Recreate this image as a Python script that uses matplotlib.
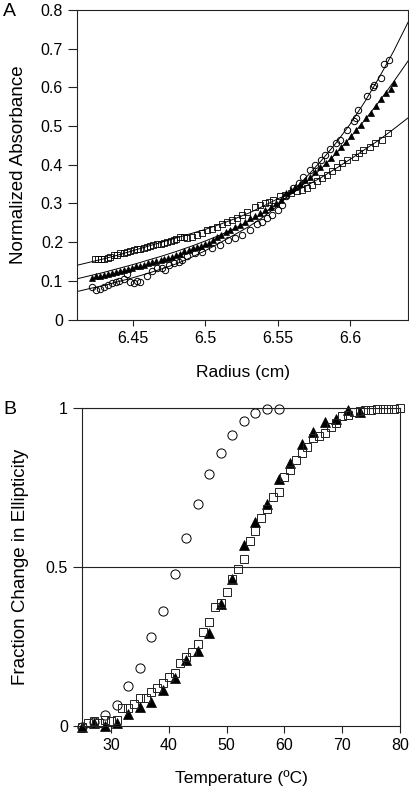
import matplotlib
matplotlib.use("Agg")
import matplotlib.pyplot as plt

plt.rcParams['font.family'] = ['Liberation Sans', 'DejaVu Sans']

# ---- panel A : sedimentation profiles ----
circ_x = [6.4216, 6.4244, 6.427, 6.430, 6.433, 6.4355, 6.438, 6.440, 6.4436, 6.446,
          6.448, 6.4507, 6.453, 6.455, 6.4597, 6.463, 6.4666, 6.470, 6.472, 6.4747,
          6.478, 6.482, 6.484, 6.487, 6.493, 6.498, 6.5044, 6.510, 6.5157, 6.5205,
          6.525, 6.531, 6.5355, 6.539, 6.5425, 6.546, 6.550, 6.553, 6.556, 6.5607,
          6.5648, 6.5676, 6.5724, 6.5759, 6.580, 6.5828, 6.5862, 6.590, 6.593, 6.5978,
          6.6025, 6.604, 6.6056, 6.6116, 6.6155, 6.6165, 6.621, 6.6236, 6.627]
circ_y = [0.083, 0.076, 0.080, 0.085, 0.089, 0.094, 0.097, 0.100, 0.104, 0.117,
          0.097, 0.094, 0.100, 0.097, 0.112, 0.126, 0.133, 0.133, 0.128, 0.141,
          0.145, 0.148, 0.153, 0.164, 0.171, 0.175, 0.184, 0.192, 0.205, 0.210,
          0.218, 0.231, 0.247, 0.253, 0.262, 0.270, 0.283, 0.296, 0.318, 0.340,
          0.354, 0.369, 0.387, 0.400, 0.413, 0.426, 0.441, 0.457, 0.465, 0.490,
          0.512, 0.520, 0.542, 0.577, 0.600, 0.606, 0.625, 0.661, 0.672]

tri_x = [6.4216, 6.4245, 6.4272, 6.430, 6.4328, 6.4355, 6.4383, 6.441, 6.4438, 6.4466,
         6.4494, 6.452, 6.455, 6.4577, 6.4605, 6.4633, 6.466, 6.469, 6.4716, 6.4744,
         6.477, 6.480, 6.4828, 6.4855, 6.4885, 6.4912, 6.494, 6.4968, 6.4996, 6.5024,
         6.505, 6.508, 6.511, 6.514, 6.517, 6.5205, 6.524, 6.5275, 6.531, 6.5345,
         6.538, 6.5415, 6.545, 6.5485, 6.552, 6.556, 6.559, 6.562, 6.5655, 6.569,
         6.5725, 6.576, 6.5795, 6.583, 6.5865, 6.590, 6.5935, 6.597, 6.6005, 6.604,
         6.6075, 6.611, 6.6145, 6.618, 6.6215, 6.625, 6.628, 6.6305]
tri_y = [0.107, 0.112, 0.113, 0.116, 0.118, 0.121, 0.124, 0.126, 0.128, 0.131,
         0.133, 0.137, 0.139, 0.142, 0.145, 0.148, 0.150, 0.154, 0.156, 0.160,
         0.162, 0.166, 0.170, 0.176, 0.180, 0.184, 0.187, 0.190, 0.194, 0.199,
         0.205, 0.213, 0.219, 0.225, 0.231, 0.238, 0.244, 0.253, 0.262, 0.268,
         0.275, 0.283, 0.291, 0.300, 0.309, 0.327, 0.334, 0.342, 0.350, 0.360,
         0.369, 0.381, 0.393, 0.404, 0.418, 0.432, 0.446, 0.460, 0.474, 0.489,
         0.502, 0.520, 0.535, 0.552, 0.570, 0.585, 0.597, 0.612]

sq_x = [6.4235, 6.4255, 6.428, 6.430, 6.4325, 6.434, 6.437, 6.439, 6.441, 6.4435,
        6.446, 6.448, 6.4505, 6.453, 6.455, 6.4575, 6.4597, 6.462, 6.464, 6.4665,
        6.469, 6.4715, 6.4735, 6.476, 6.478, 6.480, 6.4825, 6.485, 6.487, 6.4905,
        6.494, 6.4975, 6.501, 6.5045, 6.508, 6.5115, 6.515, 6.5185, 6.522, 6.5255,
        6.529, 6.5343, 6.5375, 6.541, 6.544, 6.547, 6.5517, 6.555, 6.559, 6.563,
        6.5665, 6.570, 6.5735, 6.577, 6.5805, 6.584, 6.5875, 6.591, 6.5945, 6.598,
        6.6035, 6.606, 6.609, 6.614, 6.617, 6.622, 6.626]
sq_y = [0.156, 0.156, 0.157, 0.156, 0.160, 0.162, 0.166, 0.168, 0.171, 0.172,
        0.175, 0.178, 0.180, 0.181, 0.182, 0.185, 0.188, 0.190, 0.192, 0.194,
        0.196, 0.198, 0.201, 0.203, 0.205, 0.209, 0.214, 0.212, 0.210, 0.214,
        0.218, 0.224, 0.231, 0.235, 0.240, 0.246, 0.253, 0.257, 0.262, 0.270,
        0.279, 0.292, 0.296, 0.301, 0.305, 0.309, 0.318, 0.322, 0.326, 0.332,
        0.336, 0.340, 0.348, 0.357, 0.365, 0.374, 0.384, 0.395, 0.404, 0.413,
        0.421, 0.430, 0.439, 0.447, 0.456, 0.464, 0.482]

# fitted curves
fit_x = [6.41, 6.42, 6.43, 6.44, 6.45, 6.46, 6.47, 6.48, 6.49, 6.50, 6.51, 6.52,
         6.53, 6.54, 6.55, 6.56, 6.57, 6.58, 6.59, 6.60, 6.61, 6.62, 6.63, 6.64]
fit_circ = [0.071, 0.080, 0.088, 0.098, 0.108, 0.119, 0.131, 0.144, 0.160, 0.178, 0.198, 0.219,
            0.240, 0.265, 0.294, 0.330, 0.369, 0.410, 0.455, 0.505, 0.562, 0.625, 0.693, 0.768]
fit_tri = [0.104, 0.113, 0.122, 0.132, 0.142, 0.153, 0.164, 0.176, 0.189, 0.203, 0.218, 0.235,
           0.254, 0.275, 0.299, 0.326, 0.356, 0.390, 0.428, 0.470, 0.515, 0.563, 0.614, 0.668]
fit_sq = [0.139, 0.148, 0.157, 0.167, 0.178, 0.189, 0.200, 0.211, 0.222, 0.233, 0.246, 0.260,
          0.275, 0.293, 0.312, 0.328, 0.346, 0.367, 0.390, 0.414, 0.439, 0.464, 0.492, 0.521]

# ---- panel B : thermal melts ----
b_circ_t = [25, 27, 29, 31, 33, 35, 37, 39, 41, 43, 45, 47, 49, 51, 53, 55, 57, 59]
b_circ_f = [-0.002, 0.012, 0.035, 0.065, 0.127, 0.183, 0.281, 0.363, 0.478, 0.592,
            0.697, 0.792, 0.860, 0.915, 0.959, 0.985, 0.998, 0.998]

b_tri_t = [25, 27, 29, 31, 33, 35, 37, 39, 41, 43, 45, 47, 49, 51, 53, 55, 57, 59,
           61, 63, 65, 67, 69, 71, 73]
b_tri_f = [-0.002, 0.010, 0.000, 0.010, 0.038, 0.059, 0.075, 0.113, 0.150, 0.207,
           0.237, 0.291, 0.384, 0.462, 0.569, 0.643, 0.698, 0.776, 0.828, 0.887,
           0.926, 0.957, 0.964, 0.994, 0.986]

b_sq_t = list(range(25, 81))
b_sq_f = [-0.002, 0.008, 0.015, 0.010, 0.020, 0.015, 0.020, 0.056, 0.058, 0.070,
          0.088, 0.088, 0.108, 0.120, 0.135, 0.155, 0.168, 0.197, 0.218, 0.234,
          0.257, 0.297, 0.326, 0.375, 0.388, 0.422, 0.462, 0.493, 0.524, 0.581,
          0.613, 0.655, 0.681, 0.721, 0.736, 0.784, 0.805, 0.836, 0.859, 0.878,
          0.905, 0.912, 0.920, 0.941, 0.952, 0.975, 0.978, 0.986, 0.990, 0.993,
          0.995, 0.997, 0.998, 0.998, 0.998, 1.000]

fig = plt.figure(figsize=(4.09, 7.89), dpi=100)
edge = '#222222'

def style(ax):
    for s in ax.spines.values():
        s.set_linewidth(0.8)
        s.set_color(edge)
    ax.tick_params(direction='out', width=0.8, color=edge, labelsize=11.5)
    ax.tick_params(axis='y', length=6.5, pad=3.5)
    ax.tick_params(axis='x', length=4, pad=4)

# panel A
axA = fig.add_axes([77/409, 1 - 319.5/789, 331/409, 309.5/789])
style(axA)
axA.plot(fit_x, fit_circ, color='black', lw=0.7)
axA.plot(fit_x, fit_tri, color='black', lw=0.7)
axA.plot(fit_x, fit_sq, color='black', lw=0.7)
axA.plot(circ_x, circ_y, 'o', ms=4.6, mfc='none', mec='black', mew=0.7)
axA.plot(tri_x, tri_y, '^', ms=4.2, mfc='black', mec='black', mew=0.5)
axA.plot(sq_x, sq_y, 's', ms=3.8, mfc='none', mec='black', mew=0.6)
axA.set_xlim(6.4113, 6.640)
axA.set_ylim(0, 0.8)
axA.set_xticks([6.45, 6.5, 6.55, 6.6])
axA.set_xticklabels(['6.45', '6.5', '6.55', '6.6'])
axA.set_yticks([0, 0.1, 0.2, 0.3, 0.4, 0.5, 0.6, 0.7, 0.8])
axA.set_yticklabels(['0', '0.1', '0.2', '0.3', '0.4', '0.5', '0.6', '0.7', '0.8'])
axA.set_xlabel('Radius (cm)', fontsize=12.5, labelpad=14)
axA.set_ylabel('Normalized Absorbance', fontsize=13.5, labelpad=10)

# panel B
axB = fig.add_axes([82/409, 1 - 726/789, 318/409, 318/789])
style(axB)
axB.axhline(0.5, color=edge, lw=0.8)
axB.axhline(1.0, color=edge, lw=0.8)
axB.plot(b_circ_t, b_circ_f, 'o', ms=6.6, mfc='none', mec='black', mew=0.7, clip_on=False)
axB.plot(b_tri_t, b_tri_f, '^', ms=6.5, mfc='black', mec='black', mew=0.5, clip_on=False)
axB.plot(b_sq_t, b_sq_f, 's', ms=5.8, mfc='none', mec='#222222', mew=0.7, clip_on=False)
axB.set_xlim(25, 80)
axB.set_ylim(0, 1)
axB.set_xticks([30, 40, 50, 60, 70, 80])
axB.set_yticks([0, 0.5, 1])
axB.set_yticklabels(['0', '0.5', '1'])
axB.tick_params(axis='x', length=5, pad=4)
axB.set_xlabel('Temperature (ºC)', fontsize=12.5, labelpad=12)
axB.set_ylabel('Fraction Change in Ellipticity', fontsize=13.5, labelpad=12)

fig.text(3/409, 1 - 3/789, 'A', fontsize=14, va='top', ha='left')
fig.text(3/409, 1 - 401/789, 'B', fontsize=14, va='top', ha='left')

fig.savefig('out.png', dpi=100)
